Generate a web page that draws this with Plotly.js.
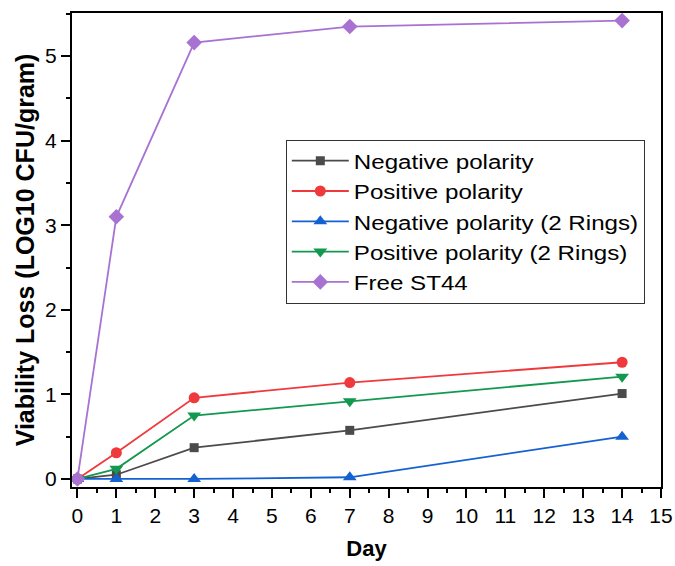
<!DOCTYPE html>
<html><head><meta charset="utf-8">
<script src="https://cdn.plot.ly/plotly-3.0.1.min.js"></script>
<style>
body{margin:0;padding:0;background:#fff}#chart{width:675px;height:566px}
.legendtext{transform-box:fill-box;transform-origin:0 50%;transform:scaleX(1.15)}
</style>
</head><body><div id="chart"></div>
<script>
const days = [0, 1, 3, 7, 14];
const seriesNames = ["Negative polarity", "Positive polarity", "Negative polarity (2 Rings)", "Positive polarity (2 Rings)", "Free ST44"];
const negativePolarity = [0, 0.05, 0.37, 0.575, 1.01];
const positivePolarity = [0, 0.31, 0.96, 1.14, 1.38];
const negative2Rings = [0, 0, 0, 0.02, 0.5];
const positive2Rings = [0, 0.12, 0.75, 0.92, 1.21];
const freeST44 = [0, 3.1, 5.16, 5.35, 5.42];
const xTicks = [0,1,2,3,4,5,6,7,8,9,10,11,12,13,14,15];
const yTicks = [0,1,2,3,4,5];

const values = [negativePolarity, positivePolarity, negative2Rings, positive2Rings, freeST44];
const colors = ["#4b4b4b", "#f0393c", "#1462d2", "#12984f", "#a872d2"];
const symbols = ["square", "circle", "triangle-up", "triangle-down", "diamond"];
const sizes = [9, 11, 12, 12, 12];

const traces = values.map((v, i) => ({
  x: days, y: v, name: seriesNames[i], type: 'scatter', mode: 'lines+markers',
  line: {color: colors[i], width: 1.8},
  marker: {symbol: symbols[i], color: colors[i], size: sizes[i]}
}));
const layout = {
  width: 675, height: 566,
  margin: {l: 72, r: 14, t: 13, b: 79},
  paper_bgcolor: '#fff', plot_bgcolor: '#fff',
  font: {family: 'Liberation Sans, Arial, sans-serif', color: '#000', size: 21},
  showlegend: true,
  legend: {x: 0.363, y: 0.733, xanchor: 'left', yanchor: 'top', bordercolor: '#333', borderwidth: 1,
    bgcolor: '#fff', font: {size: 21, family: 'Liberation Sans, Arial, sans-serif'}, tracegroupgap: 0, itemwidth: 57},
  xaxis: {
    range: [-0.14, 15], tickvals: xTicks, ticktext: xTicks.map(String),
    showgrid: false, zeroline: false, showline: true, linecolor: '#000', linewidth: 2, mirror: true,
    ticks: 'outside', ticklen: 9, tickwidth: 2, tickcolor: '#000',
    minor: {dtick: 0.5, tick0: 0, ticks: 'outside', ticklen: 4, tickwidth: 2, tickcolor: '#000', showgrid: false},
    title: {text: '<b>Day</b>', font: {size: 22}, standoff: 14},
    tickfont: {size: 21}
  },
  yaxis: {
    range: [-0.095, 5.51], tickvals: yTicks, ticktext: yTicks.map(String),
    showgrid: false, zeroline: false, showline: true, linecolor: '#000', linewidth: 2, mirror: true,
    ticks: 'outside', ticklen: 9, tickwidth: 2, tickcolor: '#000',
    minor: {dtick: 0.5, tick0: 0, ticks: 'outside', ticklen: 4, tickwidth: 2, tickcolor: '#000', showgrid: false},
    title: {text: '<b>Viability Loss (LOG10 CFU/gram)</b>', font: {size: 25}, standoff: 3},
    tickfont: {size: 21}
  }
};
Plotly.newPlot('chart', traces, layout, {displayModeBar: false});
</script></body></html>
